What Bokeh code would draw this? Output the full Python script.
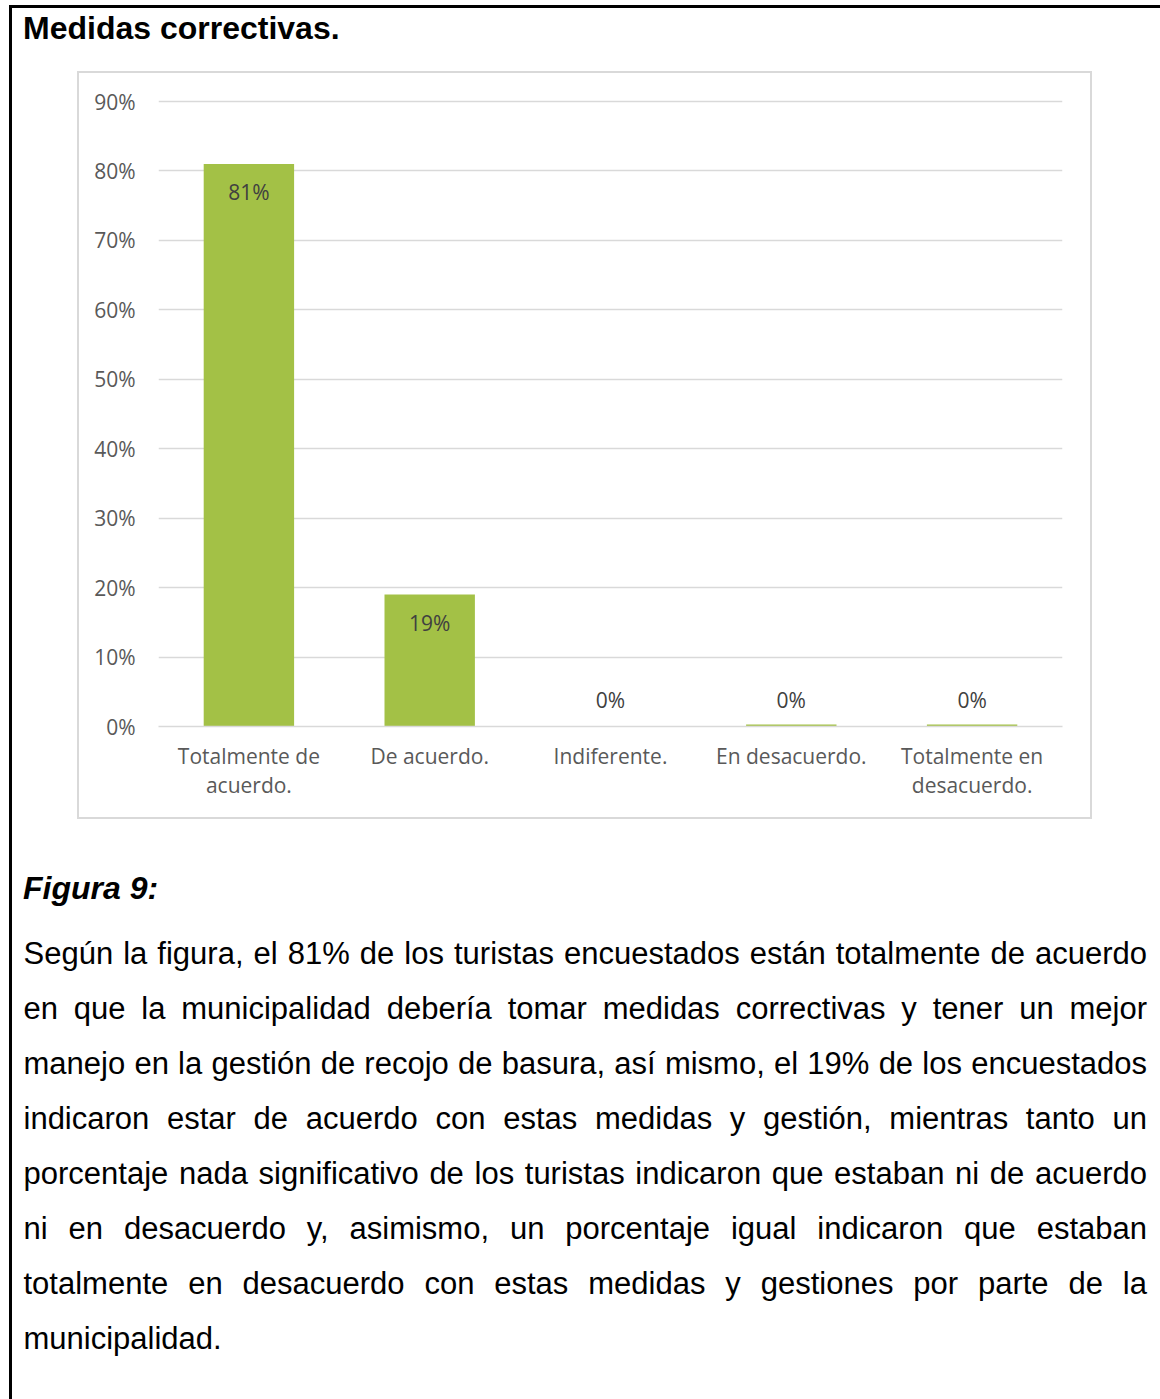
from bokeh.plotting import figure
from bokeh.models import (Div, Range1d, FactorRange, FixedTicker,
                          NumeralTickFormatter, ColumnDataSource)
from bokeh.layouts import column, row
from bokeh.embed import file_html
from bokeh.resources import INLINE
from bokeh.core.properties import value

# ---------------- data ----------------
categories = ["Totalmente de\nacuerdo.", "De acuerdo.", "Indiferente.",
              "En desacuerdo.", "Totalmente en\ndesacuerdo."]
shares = [0.81, 0.19, 0.0, 0.003, 0.003]
y_ticks = [0.0, 0.1, 0.2, 0.3, 0.4, 0.5, 0.6, 0.7, 0.8, 0.9]
title_text = "Medidas correctivas."
caption_text = "Figura 9:"
paragraph_lines = [
    "Según la figura, el 81% de los turistas encuestados están totalmente de acuerdo",
    "en que la municipalidad debería tomar medidas correctivas y tener un mejor",
    "manejo en la gestión de recojo de basura, así mismo, el 19% de los encuestados",
    "indicaron estar de acuerdo con estas medidas y gestión, mientras tanto un",
    "porcentaje nada significativo de los turistas indicaron que estaban ni de acuerdo",
    "ni en desacuerdo y, asimismo, un porcentaje igual indicaron que estaban",
    "totalmente en desacuerdo con estas medidas y gestiones por parte de la",
    "municipalidad.",
]
value_labels = [f"{round(v * 100)}%" for v in shares]

# ---------------- layout constants (page pixels) ----------------
PAGE_W = 1160
HEAD_H = 73            # 0 .. 73
CHART_H = 744          # 73 .. 817
FOOT_H = 1399 - HEAD_H - CHART_H
LEFT_W = 79            # 0 .. 79
FIG_W = 1011           # 79 .. 1090
RIGHT_W = PAGE_W - LEFT_W - FIG_W
TEXT_FONT = "'Liberation Sans', Arial, sans-serif"
CHART_FONT = "Open Sans"
GRID = "#d9d9d9"
BOX = "#d9d9d9"


def rect(left, top, w, h, color):
    return (f'<div style="position:absolute;left:{left}px;top:{top}px;width:{w}px;'
            f'height:{h}px;background:{color};"></div>')


def holder(w, h, inner):
    return (f'<div style="position:relative;width:{w}px;height:{h}px;overflow:hidden;'
            f'font-family:{TEXT_FONT};color:#000;">{inner}</div>')


# ---------------- header ----------------
head_inner = (
    rect(9, 5, PAGE_W - 9, 3, "#000")
    + rect(9, 5, 3, HEAD_H - 5, "#000")
    + rect(77, 71, 1015, 2, BOX)
    + f'<div style="position:absolute;left:23px;top:12px;font-size:32px;line-height:32px;'
      f'font-weight:bold;white-space:nowrap;">{title_text}</div>'
)
head = Div(text=holder(PAGE_W, HEAD_H, head_inner), width=PAGE_W, height=HEAD_H, margin=0)

# side strips of the chart row (page border + chart box sides)
left_strip = Div(text=holder(LEFT_W, CHART_H, rect(9, 0, 3, CHART_H, "#000")
                             + rect(77, 0, 2, CHART_H, BOX)),
                 width=LEFT_W, height=CHART_H, margin=0)
right_strip = Div(text=holder(RIGHT_W, CHART_H, rect(0, 0, 2, CHART_H, BOX)),
                  width=RIGHT_W, height=CHART_H, margin=0)

# ---------------- chart ----------------
frame_top, frame_bottom = 25, 91
frame_h = CHART_H - frame_top - frame_bottom
y_end = 0.9 * frame_h / 625.0

p = figure(width=FIG_W, height=CHART_H, output_backend="svg", toolbar_location=None,
           x_range=FactorRange(factors=categories, range_padding=0),
           y_range=Range1d(0, y_end), margin=0)
p.min_border_left = 79
p.min_border_right = 28
p.min_border_top = frame_top
p.min_border_bottom = frame_bottom
p.outline_line_color = None
p.background_fill_color = "white"
p.border_fill_color = "white"

src = ColumnDataSource(dict(cat=categories, val=shares, lab=value_labels))
p.vbar(x="cat", top="val", width=0.5, source=src,
       fill_color="#a3c146", line_color=None)

inside = [i for i, v in enumerate(shares) if v >= 0.05]
outside = [i for i, v in enumerate(shares) if v < 0.05]
common = dict(text_align="center", text_baseline="middle",
              text_font=value(CHART_FONT), text_font_size="21px",
              text_color="#404040")
p.text(x=[categories[i] for i in inside], y=[shares[i] for i in inside],
       text=[value_labels[i] for i in inside], y_offset=28, **common)
p.text(x=[categories[i] for i in outside], y=[0.0 for i in outside],
       text=[value_labels[i] for i in outside], y_offset=-27, **common)

p.yaxis.ticker = FixedTicker(ticks=y_ticks)
p.yaxis.formatter = NumeralTickFormatter(format="0%")
p.yaxis.axis_line_color = None
p.yaxis.major_tick_line_color = None
p.yaxis.minor_tick_line_color = None
p.yaxis.major_tick_out = 0
p.yaxis.major_tick_in = 0
p.yaxis.major_label_standoff = 23
p.yaxis.major_label_text_font = CHART_FONT
p.yaxis.major_label_text_font_size = "21px"
p.yaxis.major_label_text_color = "#595959"

p.xaxis.axis_line_color = GRID
p.xaxis.axis_line_width = 1.5
p.xaxis.major_tick_line_color = None
p.xaxis.minor_tick_line_color = None
p.xaxis.major_tick_out = 0
p.xaxis.major_tick_in = 0
p.xaxis.major_label_standoff = 15
p.xaxis.major_label_text_font = CHART_FONT
p.xaxis.major_label_text_font_size = "21px"
p.xaxis.major_label_text_color = "#595959"
p.xaxis.major_label_text_line_height = 1.05

p.xgrid.grid_line_color = None
p.ygrid.ticker = FixedTicker(ticks=y_ticks)
p.ygrid.grid_line_color = GRID
p.ygrid.grid_line_width = 1.5

chart_row = row(left_strip, p, right_strip, spacing=0)

# ---------------- footer ----------------
foot_inner = [
    rect(9, 0, 3, FOOT_H, "#000"),
    rect(77, 0, 1015, 2, BOX),
    f'<div style="position:absolute;left:23px;top:55px;font-size:32px;line-height:32px;'
    f'font-weight:bold;font-style:italic;white-space:nowrap;">{caption_text}</div>',
]
for k, line in enumerate(paragraph_lines):
    last = k == len(paragraph_lines) - 1
    align = "left" if last else "justify"
    foot_inner.append(
        f'<div style="position:absolute;left:23.5px;top:{121 + 55 * k}px;width:1123.5px;'
        f'font-size:31px;line-height:31px;text-align:{align};text-align-last:{align};">'
        f'{line}</div>'
    )
foot = Div(text=holder(PAGE_W, FOOT_H, "".join(foot_inner)),
           width=PAGE_W, height=FOOT_H, margin=0)

page = column(head, chart_row, foot, spacing=0)
open("out.html", "w").write(file_html(page, INLINE))
